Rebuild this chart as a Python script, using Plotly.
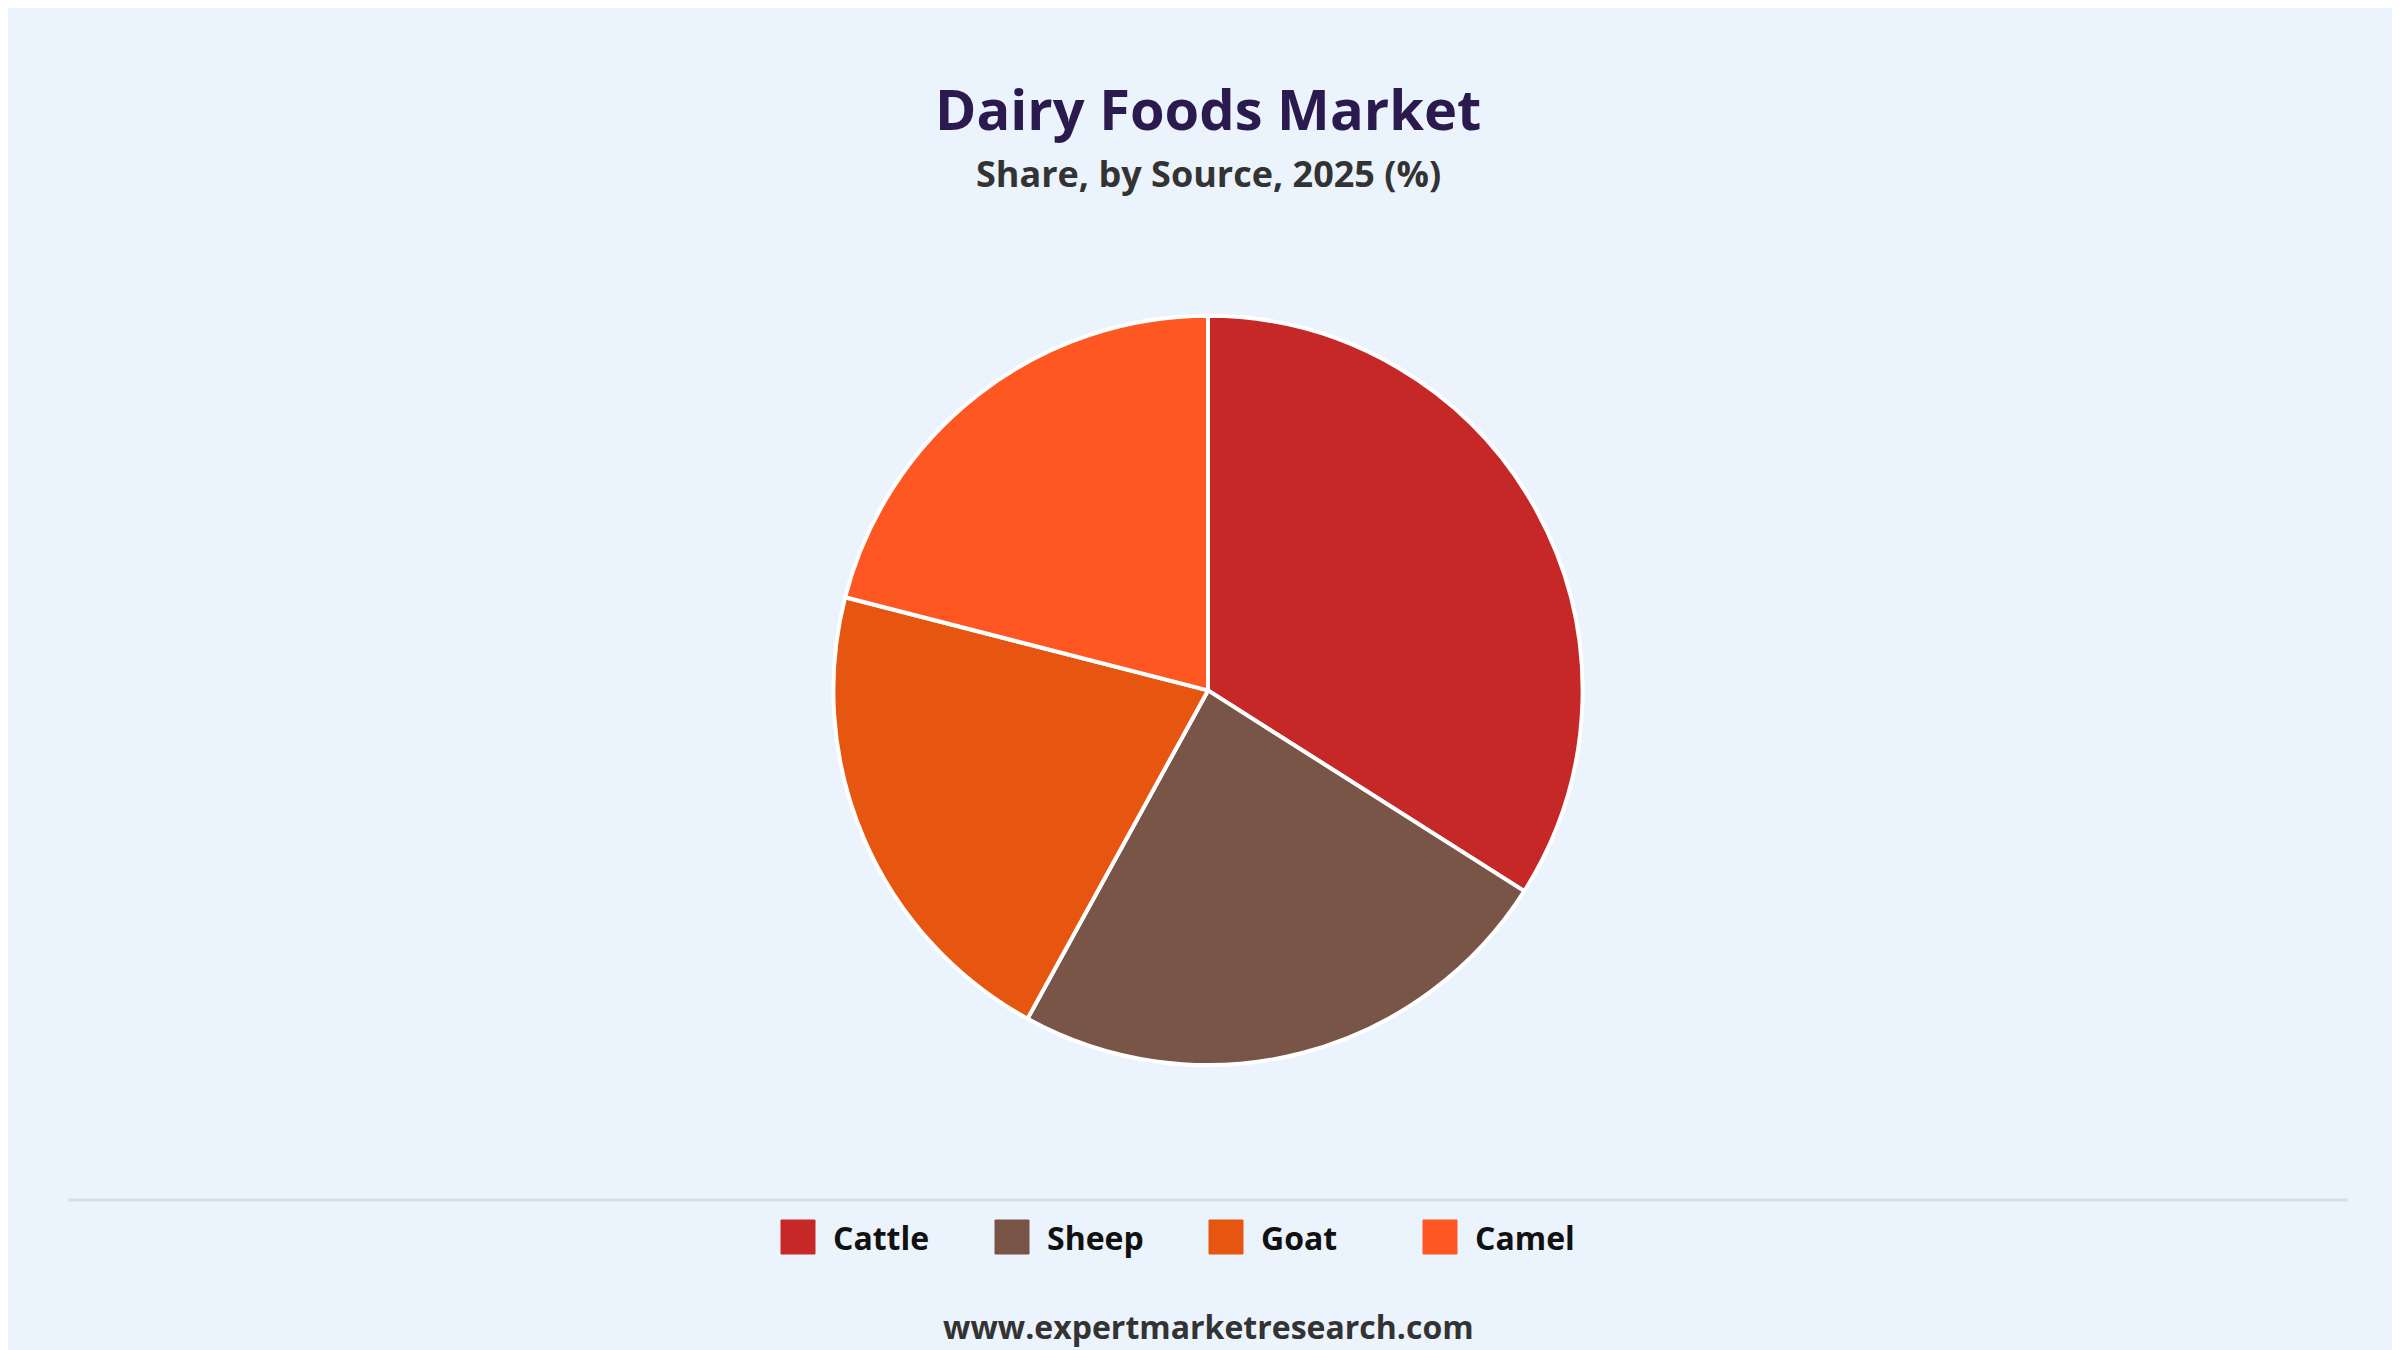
import plotly.graph_objects as go

labels = ["Cattle", "Sheep", "Goat", "Camel"]
values = [34, 24, 21, 21]
colors = ["#C62828", "#795548", "#E65610", "#FF5722"]

W, H = 2400, 1350
fig = go.Figure(go.Pie(
    labels=labels, values=values, sort=False, direction="clockwise", rotation=0,
    marker=dict(colors=colors, line=dict(color="white", width=4)),
    textinfo="none", hoverinfo="label+percent",
    domain=dict(x=[0, 1], y=[0.217, 0.772]),
))

shapes = [dict(type="line", xref="paper", yref="paper", x0=60 / W, x1=2340 / W,
               y0=1 - 1192 / H, y1=1 - 1192 / H, line=dict(color="#D8DDE3", width=3))]
annotations = [
    dict(text="<b>Dairy Foods Market</b>", x=0.5, y=1 - 100 / H, xref="paper", yref="paper",
         yanchor="middle", showarrow=False, font=dict(size=56, color="#2A1A4E")),
    dict(text="<b>Share, by Source, 2025 (%)</b>", x=0.5, y=1 - 165 / H, xref="paper", yref="paper",
         yanchor="middle", showarrow=False, font=dict(size=36, color="#333333")),
    dict(text="<b>www.expertmarketresearch.com</b>", x=0.5, y=1 - 1318 / H, xref="paper", yref="paper",
         yanchor="middle", showarrow=False, font=dict(size=32, color="#333333")),
]
ly = 1229
for i, (lab, col) in enumerate(zip(labels, colors)):
    x0 = 773 + i * 214
    shapes.append(dict(type="rect", xref="paper", yref="paper",
                       x0=x0 / W, x1=(x0 + 34) / W, y0=1 - (ly + 17) / H, y1=1 - (ly - 17) / H,
                       fillcolor=col, line=dict(color=col, width=1)))
    annotations.append(dict(text="<b>" + lab + "</b>", x=(x0 + 50) / W, y=1 - ly / H,
                            xref="paper", yref="paper", xanchor="left", yanchor="middle",
                            showarrow=False, font=dict(size=32, color="#111111")))

fig.update_layout(
    width=W, height=H, margin=dict(l=0, r=0, t=0, b=0),
    paper_bgcolor="#EBF3FC", plot_bgcolor="#EBF3FC",
    font=dict(family="Open Sans, Noto Sans, sans-serif"),
    showlegend=False, shapes=shapes, annotations=annotations,
)
fig.write_html("out.html")
